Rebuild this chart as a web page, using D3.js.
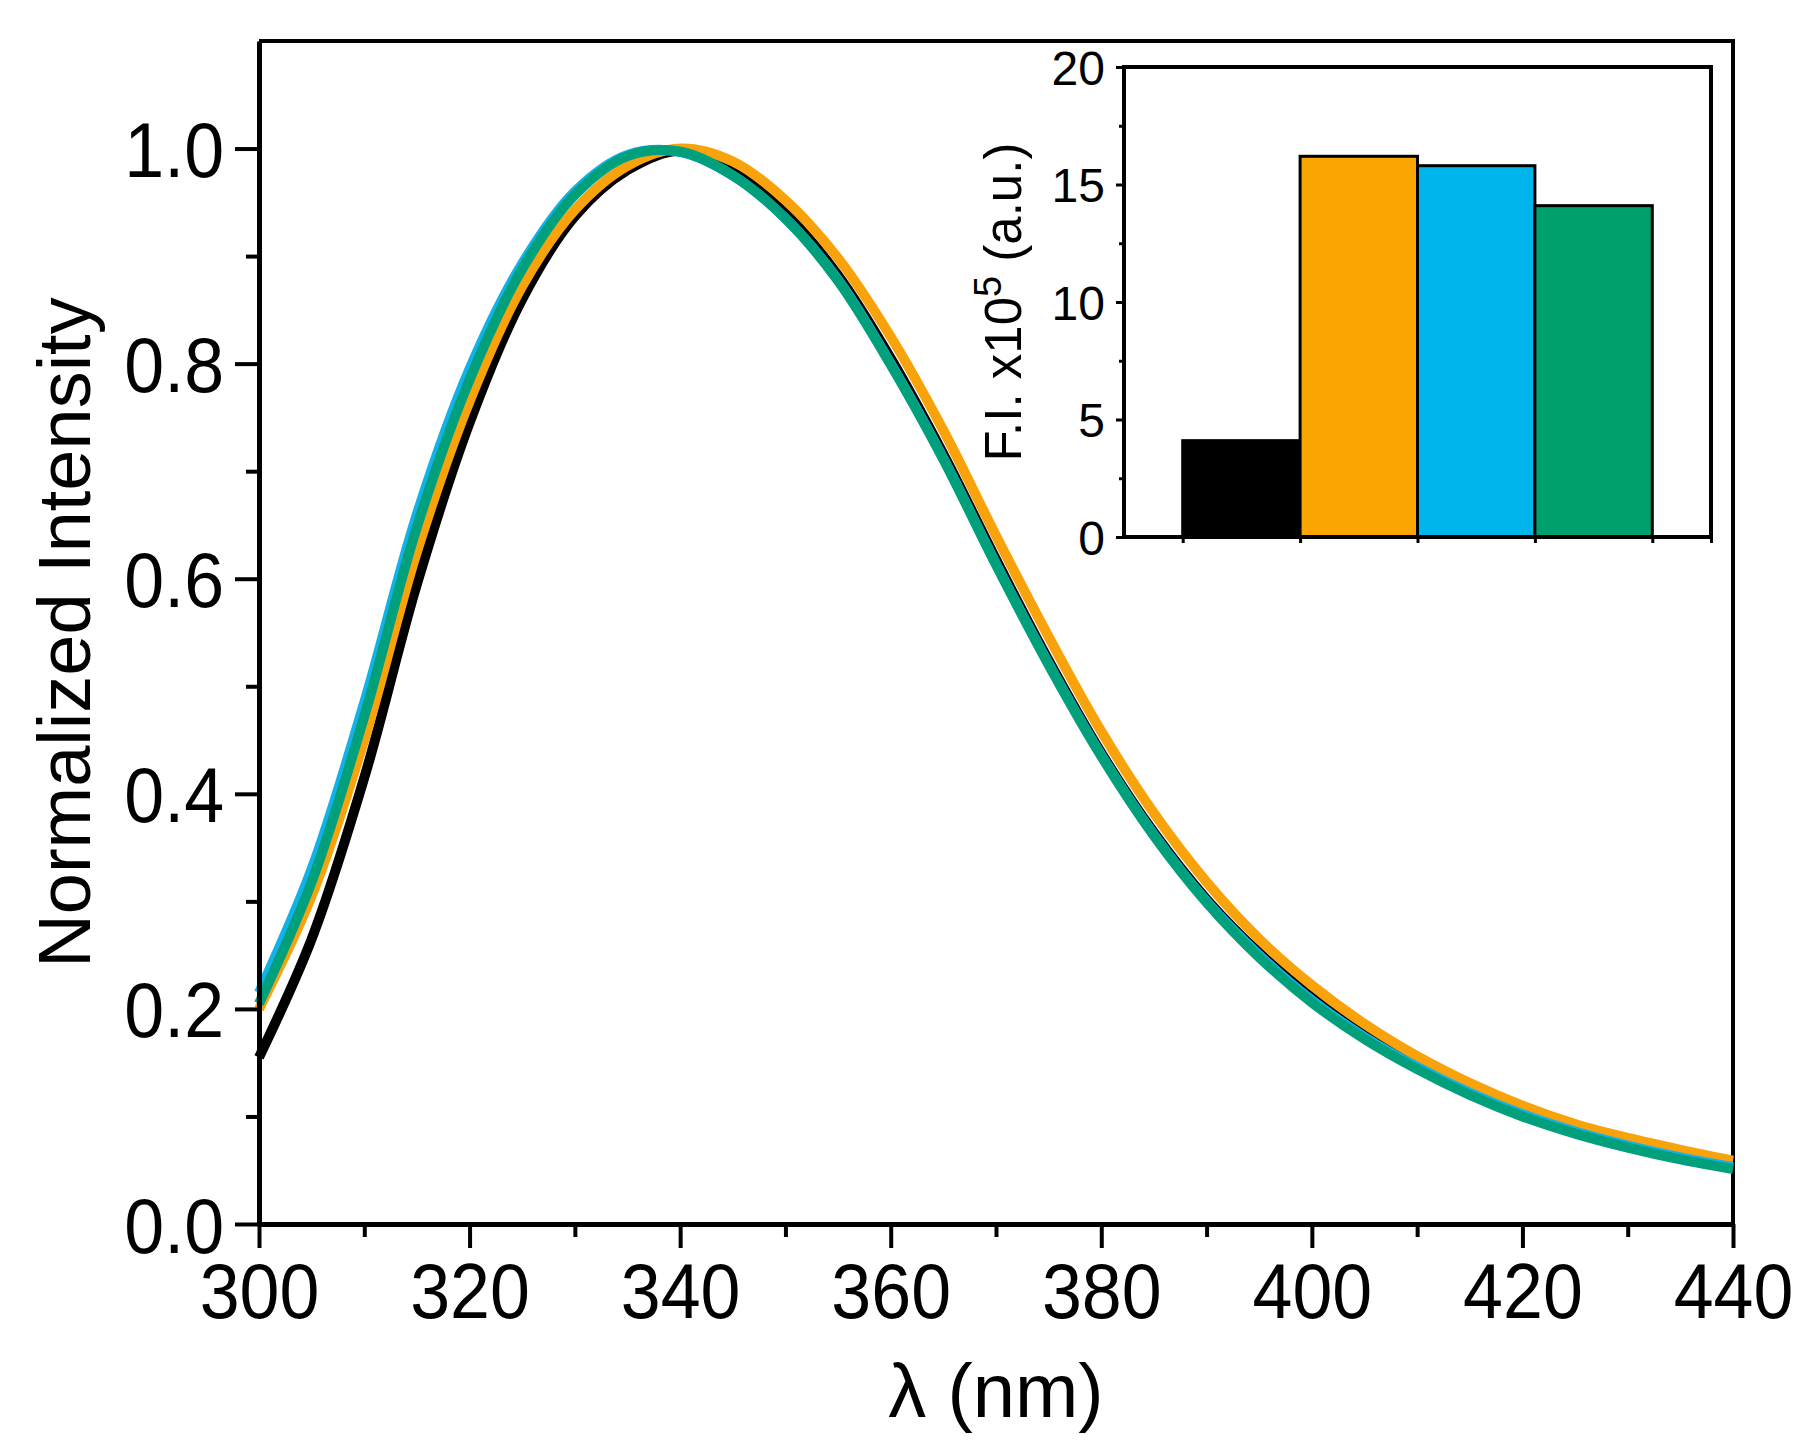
<!DOCTYPE html>
<html>
<head>
<meta charset="utf-8">
<script src="https://cdn.jsdelivr.net/npm/d3@7"></script>
<style>
  body { margin: 0; background: #fff; }
  text { font-family: "Liberation Sans", Arial, Helvetica, sans-serif; fill: #000; }
</style>
</head>
<body>
<svg id="chart"></svg>
<script>
// ---- data ----
const wavelengths = [300,305,310,315,320,325,330,335,340,345,350,355,360,365,370,375,380,385,390,395,400,405,410,415,420,425,430,435,440];

const blackSeries  = [0.155,0.265,0.415,0.595,0.745,0.860,0.937,0.980,0.998,0.980,0.940,0.882,0.805,0.716,0.618,0.524,0.438,0.364,0.302,0.252,0.211,0.176,0.148,0.124,0.104,0.088,0.075,0.064,0.054];
const orangeSeries = [0.200,0.305,0.450,0.625,0.765,0.872,0.943,0.984,1.000,0.988,0.952,0.898,0.825,0.738,0.640,0.546,0.458,0.382,0.318,0.265,0.222,0.186,0.156,0.131,0.110,0.093,0.080,0.069,0.059];
const blueSeries   = [0.215,0.330,0.485,0.660,0.795,0.893,0.960,0.994,0.997,0.975,0.935,0.878,0.800,0.712,0.614,0.521,0.436,0.362,0.300,0.250,0.208,0.174,0.146,0.122,0.102,0.086,0.073,0.062,0.053];
const greenSeries  = [0.205,0.318,0.472,0.648,0.785,0.888,0.957,0.993,0.997,0.975,0.935,0.877,0.799,0.711,0.613,0.520,0.435,0.361,0.299,0.248,0.206,0.172,0.144,0.120,0.100,0.084,0.071,0.060,0.051];

const seriesColors = ["#000000", "#f9a30c", "#12b2e8", "#00a07c"];

const xMajorTicks = [300,320,340,360,380,400,420,440];
const xMinorTicks = [310,330,350,370,390,410,430];
const yMajorTicks = [0,0.2,0.4,0.6,0.8,1.0];
const yMinorTicks = [0.1,0.3,0.5,0.7,0.9];

// inset bar chart
const barValues = [4.1, 16.2, 15.8, 14.1];
const barColors = ["#000000", "#fba500", "#00b5eb", "#00a06e"];
const insetMajorTicks = [0,5,10,15,20];
const insetMinorTicks = [2.5,7.5,12.5,17.5];

// ---- layout ----
const W = 1800, H = 1455;
const svg = d3.select("#chart").attr("width", W).attr("height", H);

const x = d3.scaleLinear().domain([300, 440]).range([259, 1733]);
const y = d3.scaleLinear().domain([0, 1.1]).range([1224, 41]);

// frame (top and right)
svg.append("path")
    .attr("d", `M${x(300)},${y(1.1)}H${x(440)}V${y(0)}`)
    .attr("fill", "none")
    .attr("stroke", "#000")
    .attr("stroke-width", 4);

// spectra
const line = d3.line()
    .x((d, i) => x(wavelengths[i]))
    .y(d => y(d))
    .curve(d3.curveCatmullRom.alpha(0.5));

[blackSeries, orangeSeries, blueSeries, greenSeries].forEach((s, k) => {
    svg.append("path")
        .datum(s)
        .attr("d", line)
        .attr("fill", "none")
        .attr("stroke", seriesColors[k])
        .attr("stroke-width", 10)
        .attr("stroke-linejoin", "round");
});

// x axis
const gx = svg.append("g").attr("transform", `translate(0,${y(0)})`);
gx.call(d3.axisBottom(x).tickValues(xMajorTicks).tickSize(24).tickSizeOuter(0).tickFormat(d3.format("d")));
gx.call(g => g.select(".domain").attr("stroke-width", 5));
gx.selectAll(".tick line").attr("stroke-width", 4);
gx.selectAll(".tick text")
    .attr("y", 94).attr("dy", 0)
    .attr("transform", "scale(0.92,1)")
    .style("font-size", "78px");

const gxm = svg.append("g").attr("transform", `translate(0,${y(0)})`);
gxm.call(d3.axisBottom(x).tickValues(xMinorTicks).tickSize(13).tickFormat(""));
gxm.select(".domain").remove();
gxm.selectAll(".tick line").attr("stroke-width", 4);

// y axis
const gy = svg.append("g").attr("transform", `translate(${x(300)},0)`);
gy.call(d3.axisLeft(y).tickValues(yMajorTicks).tickSize(24).tickSizeOuter(0).tickFormat(d3.format(".1f")));
gy.call(g => g.select(".domain").attr("stroke-width", 5));
gy.selectAll(".tick line").attr("stroke-width", 4);
gy.selectAll(".tick text")
    .attr("x", -38).attr("dy", "0.36em")
    .attr("transform", "scale(0.92,1)")
    .style("font-size", "78px");

const gym = svg.append("g").attr("transform", `translate(${x(300)},0)`);
gym.call(d3.axisLeft(y).tickValues(yMinorTicks).tickSize(13).tickFormat(""));
gym.select(".domain").remove();
gym.selectAll(".tick line").attr("stroke-width", 4);

svg.selectAll(".domain").attr("stroke", "#000");

// axis titles
svg.append("text")
    .attr("x", (x(300) + x(440)) / 2)
    .attr("y", 1417)
    .attr("text-anchor", "middle")
    .style("font-size", "76px")
    .text("λ (nm)");

svg.append("text")
    .attr("transform", `translate(90,${(y(0) + y(1.1)) / 2}) rotate(-90)`)
    .attr("text-anchor", "middle")
    .style("font-size", "74px")
    .text("Normalized Intensity");

// ---- inset ----
const xi = d3.scaleLinear().domain([0, 5]).range([1124, 1711]);
const yi = d3.scaleLinear().domain([0, 20]).range([537, 67]);

svg.append("rect")
    .attr("x", xi(0)).attr("y", yi(20))
    .attr("width", xi(5) - xi(0)).attr("height", yi(0) - yi(20))
    .attr("fill", "#fff");

svg.selectAll(".bar")
    .data(barValues)
    .join("rect")
    .attr("class", "bar")
    .attr("x", (d, i) => xi(i + 0.5))
    .attr("width", (d, i) => xi(i + 1.5) - xi(i + 0.5))
    .attr("y", d => yi(d))
    .attr("height", d => yi(0) - yi(d))
    .attr("fill", (d, i) => barColors[i])
    .attr("stroke", "#000")
    .attr("stroke-width", 3);

svg.append("rect")
    .attr("x", xi(0)).attr("y", yi(20))
    .attr("width", xi(5) - xi(0)).attr("height", yi(0) - yi(20))
    .attr("fill", "none")
    .attr("stroke", "#000")
    .attr("stroke-width", 4);

const giy = svg.append("g").attr("transform", `translate(${xi(0)},0)`);
giy.call(d3.axisLeft(yi).tickValues(insetMajorTicks).tickSize(8).tickSizeOuter(0));
giy.select(".domain").remove();
giy.selectAll(".tick line").attr("stroke-width", 3);
giy.selectAll(".tick text")
    .attr("x", -19).attr("dy", "0.36em")
    .style("font-size", "48px");

const giym = svg.append("g").attr("transform", `translate(${xi(0)},0)`);
giym.call(d3.axisLeft(yi).tickValues(insetMinorTicks).tickSize(5).tickFormat(""));
giym.select(".domain").remove();
giym.selectAll(".tick line").attr("stroke-width", 3);

const gix = svg.append("g").attr("transform", `translate(0,${yi(0)})`);
gix.call(d3.axisBottom(xi).tickValues([0.5,1.5,2.5,3.5,4.5,5]).tickSize(6).tickFormat(""));
gix.select(".domain").remove();
gix.selectAll(".tick line").attr("stroke-width", 3);

const insetTitle = svg.append("text")
    .attr("transform", `translate(1021,${(yi(0) + yi(20)) / 2}) rotate(-90)`)
    .attr("text-anchor", "middle")
    .style("font-size", "51px");
insetTitle.append("tspan").text("F.I. x10");
insetTitle.append("tspan").attr("dy", -20).style("font-size", "38px").text("5");
insetTitle.append("tspan").attr("dy", 20).text(" (a.u.)");
</script>
</body>
</html>
